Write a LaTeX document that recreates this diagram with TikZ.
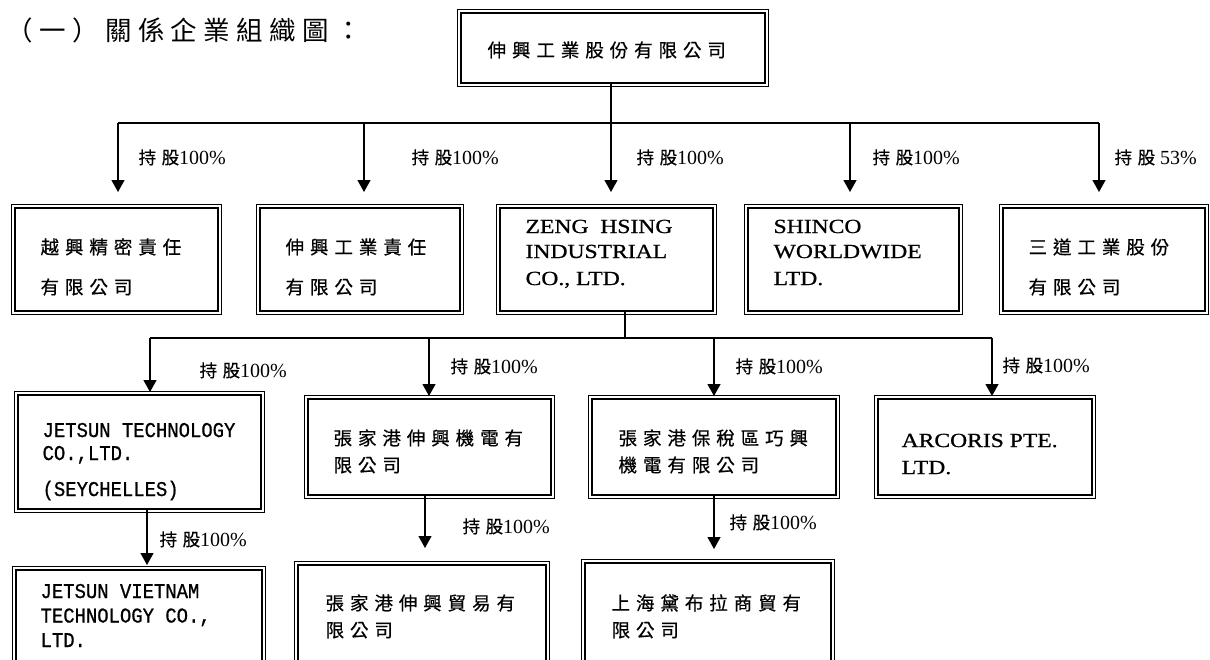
\documentclass[tikz,border=0pt]{standalone}
\usepackage{fontspec}
\setmainfont{Liberation Serif}
\newfontfamily\cjkfont[LetterSpace=32,FakeBold=0.6]{Noto Sans CJK TC}
\newfontfamily\cjktitle[LetterSpace=24]{Noto Sans CJK TC}
\newfontfamily\narrowmono[FakeStretch=0.9,FakeBold=0.8]{Liberation Mono}
\newfontfamily\widelatin[FakeStretch=1.18,FakeBold=0.8]{Liberation Serif}
\usetikzlibrary{arrows.meta}
\newcommand{\holding}[1]{{\cjkfont\fontsize{17.5}{20}\selectfont 持股}#1}
\tikzset{
  company/.style={draw, line width=2pt, inner sep=0pt,
    append after command={\pgfextra{\let\boxnode\tikzlastnode
      \draw[line width=0.8pt] ([shift={(-2.6pt,2.6pt)}]\boxnode.north west)
        rectangle ([shift={(2.6pt,-2.6pt)}]\boxnode.south east);}}},
  cjktext/.style={anchor=base west, inner sep=0pt, align=left, font=\cjkfont\fontsize{18.5}{27}\selectfont},
  latintext/.style={anchor=base west, inner sep=0pt, align=left, font=\widelatin\fontsize{20}{25}\selectfont},
  monotext/.style={anchor=base west, inner sep=0pt, align=left, font=\narrowmono\fontsize{21}{23}\selectfont},
  stake/.style={anchor=base west, inner sep=0pt, font=\fontsize{20}{24}\selectfont},
  feed/.style={-{Triangle[width=13pt,length=12pt]}}
}

\begin{document}
\begin{tikzpicture}[x=1pt, y=-1pt, line width=1.2pt]
  \useasboundingbox (0,0) rectangle (1210,659);
  \clip (0,0) rectangle (1210,659);

  \node[anchor=base west, inner sep=0pt, font=\cjktitle\fontsize{26.5}{30}\selectfont] (title) at (6,40) {（一）關係企業組織圖：};

  % parent company
  \node[company, minimum width=304, minimum height=70] (zh) at (613,48) {};
  \node[cjktext] (zht) at (487,57) {伸興工業股份有限公司};

  % first level (multi-line texts sit on their last baseline)
  \node[company, minimum width=203, minimum height=103] (yx) at (116.5,259.5) {};
  \node[cjktext] (yxt) at (40,294) {越興精密責任\\[13pt]有限公司};
  \node[company, minimum width=200, minimum height=103] (sx) at (360,259.5) {};
  \node[cjktext] (sxt) at (285,294) {伸興工業責任\\[13pt]有限公司};
  \node[company, minimum width=213, minimum height=103] (zeng) at (606.5,259.5) {};
  \node[latintext] (zengt) at (525,285) {ZENG~~HSING\\INDUSTRIAL\\[2pt]CO.,~LTD.};
  \node[company, minimum width=211, minimum height=103] (shinco) at (853.5,259.5) {};
  \node[latintext] (shincot) at (773,285) {SHINCO\\WORLDWIDE\\[2pt]LTD.};
  \node[company, minimum width=202, minimum height=103] (sd) at (1104,259.5) {};
  \node[cjktext] (sdt) at (1028,294) {三道工業股份\\[13pt]有限公司};

  % second level
  \node[company, minimum width=243, minimum height=114] (jt) at (139.5,452) {};
  \node[monotext] (jtt) at (42,496) {JETSUN~TECHNOLOGY\\CO.,LTD.\\[13pt](SEYCHELLES)};
  \node[company, minimum width=243, minimum height=96] (zjg) at (429.5,447) {};
  \node[cjktext] (zjgt) at (333,472) {張家港伸興機電有\\限公司};
  \node[company, minimum width=244, minimum height=96] (bsq) at (714,447) {};
  \node[cjktext] (bsqt) at (618,472) {張家港保稅區巧興\\機電有限公司};
  \node[company, minimum width=214, minimum height=96] (arc) at (985,447) {};
  \node[latintext] (arct) at (901,474) {ARCORIS~PTE.\\[2pt]LTD.};

  % third level
  \node[company, minimum width=246, minimum height=107] (jv) at (139,623.5) {};
  \node[monotext] (jvt) at (40,647) {JETSUN~VIETNAM\\[1.5pt]TECHNOLOGY~CO.,\\[1.5pt]LTD.};
  \node[company, minimum width=248, minimum height=112] (zjm) at (422,621) {};
  \node[cjktext] (zjmt) at (325,637) {張家港伸興貿易有\\限公司};
  \node[company, minimum width=246, minimum height=114] (shb) at (708,620) {};
  \node[cjktext] (shbt) at (611,637) {上海黛布拉商貿有\\限公司};

  % holdings of the parent
  \coordinate (j1) at (118,123);
  \coordinate (j2) at (364,123);
  \coordinate (j3) at (611,123);
  \coordinate (j4) at (850,123);
  \coordinate (j5) at (1099,123);
  \draw (j3 |- zh.south) -- (j3);
  \draw (j1) -- (j5);
  \draw[feed, shorten >=15pt] (j1) -- (j1 |- yx.north);
  \draw[feed, shorten >=15pt] (j2) -- (j2 |- sx.north);
  \draw[feed, shorten >=15pt] (j3) -- (j3 |- zeng.north);
  \draw[feed, shorten >=15pt] (j4) -- (j4 |- shinco.north);
  \draw[feed, shorten >=15pt] (j5) -- (j5 |- sd.north);
  \node[stake] (s1) at (138,164) {\holding{100\%}};
  \node[stake] (s2) at (411,164) {\holding{100\%}};
  \node[stake] (s3) at (636,164) {\holding{100\%}};
  \node[stake] (s4) at (872,164) {\holding{100\%}};
  \node[stake] (s5) at (1114,164) {\holding{~53\%}};

  % holdings of ZENG HSING
  \coordinate (k0) at (625,338);
  \coordinate (k1) at (150,338);
  \coordinate (k2) at (429,338);
  \coordinate (k3) at (714,338);
  \coordinate (k4) at (992,338);
  \draw (k0 |- zeng.south) -- (k0);
  \draw (k1) -- (k4);
  \draw[feed, shorten >=2pt] (k1) -- (k1 |- jt.north);
  \draw[feed, shorten >=2pt] (k2) -- (k2 |- zjg.north);
  \draw[feed, shorten >=2pt] (k3) -- (k3 |- bsq.north);
  \draw[feed, shorten >=2pt] (k4) -- (k4 |- arc.north);
  \node[stake] (t1) at (199,377) {\holding{100\%}};
  \node[stake] (t2) at (450,373) {\holding{100\%}};
  \node[stake] (t3) at (735,373) {\holding{100\%}};
  \node[stake] (t4) at (1002,372) {\holding{100\%}};

  % lower holdings
  \coordinate (m1) at ([xshift=7.5pt]jt.south);
  \coordinate (m2) at ([xshift=-4.5pt]zjg.south);
  \coordinate (m3) at (bsq.south);
  \draw[feed, shorten >=4pt] (m1) -- (m1 |- jv.north);
  \draw[feed, shorten >=16pt] (m2) -- (m2 |- zjm.north);
  \draw[feed, shorten >=13pt] (m3) -- (m3 |- shb.north);
  \node[stake] (u1) at (159,546) {\holding{100\%}};
  \node[stake] (u2) at (462,533) {\holding{100\%}};
  \node[stake] (u3) at (729,529) {\holding{100\%}};
\end{tikzpicture}
\end{document}
